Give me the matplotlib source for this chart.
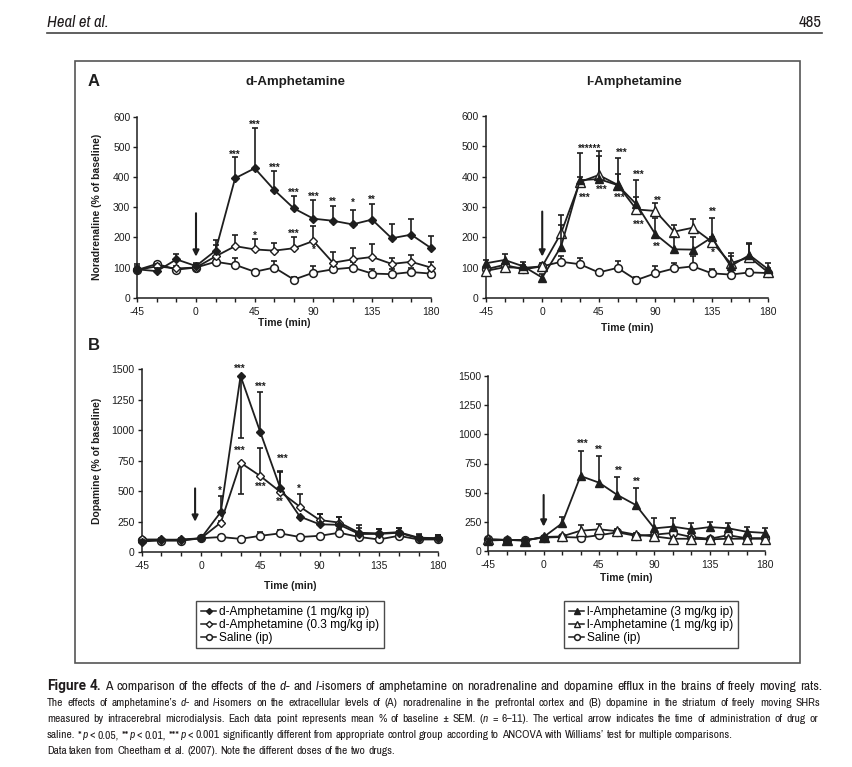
import matplotlib
matplotlib.use("Agg")
import numpy as np
from matplotlib import pyplot as plt
from matplotlib import font_manager
from matplotlib.lines import Line2D
from matplotlib.patches import Rectangle

W, H = 853, 767
INK = "#1e1e1e"
TXT = "#1f1b1c"
plt.rcParams["font.family"] = "Liberation Sans"
plt.rcParams["axes.unicode_minus"] = False

# time points (min)
t = [-45, -30, -15, 0, 15, 30, 45, 60, 75, 90, 105, 120, 135, 150, 165, 180]

# A, noradrenaline, d-amphetamine panel
d1_na = [94, 88, 127, 105, 156, 396, 429, 357, 296, 262, 255, 243, 259, 197, 209, 165]
d1_na_hi = [112, 100, 145, 115, 190, 465, 563, 421, 338, 325, 305, 292, 309, 244, 262, 205]
d03_na = [92, 104, 97, 100, 137, 171, 160, 156, 164, 188, 116, 127, 135, 112, 119, 100]
d03_na_hi = [105, 112, 105, 112, 175, 209, 193, 182, 200, 238, 150, 164, 177, 130, 143, 118]
sal_na_d = [92, 112, 93, 100, 119, 109, 86, 100, 60, 83, 94, 100, 80, 78, 85, 80]
sal_na_d_hi = [100, 118, 100, 110, 126, 130, 92, 122, 70, 105, 112, 118, 95, 95, 100, 92]

# A, noradrenaline, l-amphetamine panel
l3_na = [115, 126, 105, 68, 170, 388, 392, 372, 309, 211, 161, 160, 200, 106, 142, 95]
l3_na_hi = [125, 145, 120, 80, 275, 479, 483, 408, 389, 265, 200, 200, 265, 148, 183, 115]
l1_na = [90, 102, 100, 105, 214, 382, 405, 373, 292, 287, 219, 232, 186, 115, 135, 85]
l1_na_hi = [98, 112, 110, 115, 240, 400, 468, 462, 334, 312, 242, 261, 200, 140, 180, 100]
sal_na_l = [95, 110, 95, 105, 120, 112, 85, 100, 60, 82, 98, 105, 82, 78, 85, 83]
sal_na_l_hi = [103, 118, 103, 112, 138, 133, 92, 123, 70, 107, 117, 138, 95, 90, 95, 92]

# B, dopamine, d-amphetamine panel
d1_da = [87, 100, 105, 115, 330, 1443, 982, 529, 292, 229, 225, 150, 150, 160, 115, 115]
d1_da_hi = [100, 110, 115, 125, 461, 1443, 1314, 665, 300, 310, 285, 220, 190, 200, 150, 145]
d1_da_lo = [87, 100, 105, 115, 330, 933, 982, 529, 292, 229, 225, 150, 150, 160, 115, 115]
d03_da = [105, 105, 100, 115, 243, 733, 624, 496, 373, 264, 243, 160, 155, 165, 120, 115]
d03_da_hi = [115, 115, 110, 125, 260, 733, 856, 660, 474, 310, 285, 200, 190, 200, 145, 140]
d03_da_lo = [105, 105, 100, 115, 243, 474, 624, 496, 373, 264, 243, 160, 155, 165, 120, 115]
sal_da_d = [100, 95, 95, 115, 125, 110, 135, 155, 125, 135, 160, 125, 105, 135, 105, 105]
sal_da_d_hi = [110, 105, 105, 125, 140, 125, 165, 185, 140, 150, 190, 160, 130, 175, 120, 115]

# B, dopamine, l-amphetamine panel
l3_da = [90, 95, 90, 120, 237, 643, 586, 480, 394, 194, 209, 185, 205, 195, 165, 155]
l3_da_hi = [100, 105, 100, 130, 290, 857, 817, 637, 543, 280, 285, 240, 250, 240, 210, 195]
l1_da = [100, 95, 90, 120, 125, 174, 186, 170, 140, 125, 105, 105, 100, 105, 105, 105]
l1_da_hi = [110, 105, 100, 130, 140, 225, 230, 185, 155, 140, 120, 120, 115, 120, 120, 118]
sal_da_l = [100, 95, 95, 115, 120, 115, 135, 160, 130, 140, 155, 120, 105, 135, 110, 110]
sal_da_l_hi = [108, 103, 103, 123, 130, 125, 150, 180, 145, 155, 175, 135, 118, 150, 122, 120]

# significance marks (time, level, text)
stars_na_d = [(30, 482, "***"), (45, 581, "***"), (60, 438, "***"), (75, 357, "***"),
              (90, 343, "***"), (105, 327, "**"), (120, 322, "*"), (135, 333, "**"),
              (45, 213, "*"), (75, 219, "***"), (90, 166, "*")]
stars_na_l = [(37.5, 500, "******"), (63, 485, "***"), (77, 413, "***"), (92, 329, "**"),
              (136, 294, "**"), (34, 340, "***"), (47, 364, "***"), (62, 340, "***"),
              (77, 249, "***"), (91, 177, "**"), (136, 157, "*")]
stars_da_d = [(29.5, 1519, "***"), (45, 1374, "***"), (29.5, 851, "***"), (14, 524, "*"),
              (62, 788, "***"), (74.5, 537, "*"), (45, 559, "***"), (60, 434, "**")]
stars_da_l = [(31.5, 937, "***"), (45, 889, "**"), (61, 709, "**"), (76, 614, "**")]

# drug administration arrows (time, from, to)
arrow_na_d = (0, 280, 136)
arrow_na_l = (0, 285, 137)
arrow_da_d = (-4.5, 523, 250)
arrow_da_l = (0, 480, 209)

lab_d = ["d-Amphetamine (1 mg/kg ip)", "d-Amphetamine (0.3 mg/kg ip)", "Saline (ip)"]
lab_l = ["l-Amphetamine (3 mg/kg ip)", "l-Amphetamine (1 mg/kg ip)", "Saline (ip)"]

# caption lines as (text, style) pieces
cap1 = [("Figure 4.", "b"), (" A comparison of the effects of the ", ""), ("d", "i"), ("- and ", ""), ("l", "i"),
        ("-isomers of amphetamine on noradrenaline and dopamine efflux in the brains of freely moving rats.", "")]
cap2 = [("The effects of amphetamine\u2019s ", ""), ("d", "i"), ("- and ", ""), ("l", "i"),
        ("-isomers on the extracellular levels of (A) noradrenaline in the prefrontal cortex and (B) dopamine in the striatum of freely moving SHRs", "")]
cap3 = [("measured by intracerebral microdialysis. Each data point represents mean % of baseline \u00b1 SEM. (", ""),
        ("n", "i"), (" = 6\u201311). The vertical arrow indicates the time of administration of drug or", "")]
cap4 = [("saline. *", ""), ("p", "i"), (" < 0.05, **", ""), ("p", "i"), (" < 0.01, ***", ""), ("p", "i"),
        (" < 0.001 significantly different from appropriate control group according to ANCOVA with Williams\u2019 test for multiple comparisons.", "")]
cap5 = [("Data taken from Cheetham et al. (2007). Note the different doses of the two drugs.", "")]

# narrow font for the journal text
fl = font_manager.fontManager.ttflist
narrow = sorted({f.name for f in fl if "Narrow" in f.name or "Condensed" in f.name},
                key=lambda n: (0 if "Liberation" in n else 1, n))
dvc = [f for f in fl if f.name == "DejaVu Sans" and "condensed" in str(f.stretch)]
if narrow:
    NARROW, STRETCH = narrow[0], "normal"
elif dvc:
    NARROW, STRETCH = "DejaVu Sans", "condensed"
else:
    NARROW, STRETCH = "Roboto", "normal"
has_bold = any(f.name == NARROW and f.weight in (600, 700, 800, "bold", "semibold") for f in fl)
BOLD_FAM = NARROW if has_bold else "Roboto"

S_OPEN_C = dict(marker="o", ms=5.6, mfc="white", mec=INK, mew=1.1)
S_FILL_D = dict(marker="D", ms=4, mfc=INK, mec=INK, mew=1)
S_OPEN_D = dict(marker="D", ms=4.3, mfc="white", mec=INK, mew=1)
S_FILL_T = dict(marker="^", ms=6, mfc=INK, mec=INK, mew=1)
S_OPEN_T = dict(marker="^", ms=6.5, mfc="white", mec=INK, mew=1)

fig = plt.figure(figsize=(W / 100, H / 100), dpi=100)


def pos(x0, x1, ytop, ybot):
    return [x0 / W, 1 - ybot / H, (x1 - x0) / W, (ybot - ytop) / H]


def setup(ax, ymax, ystep, xlab_y, ylab=None, ylab_x=None):
    ax.set_xlim(-45, 180)
    ax.set_ylim(0, ymax)
    ax.set_xticks(range(-45, 181, 45))
    ax.set_xticks(t, minor=True)
    ax.set_yticks(np.arange(0, ymax + 1, ystep))
    ax.spines[["top", "right"]].set_visible(False)
    ax.spines[["left", "bottom"]].set_linewidth(1.1)
    ax.spines[["left", "bottom"]].set_color(INK)
    ax.tick_params(which="both", direction="out", length=3, width=1, labelsize=7.5, color=INK, labelcolor=INK)
    ax.tick_params(axis="x", pad=3.5)
    ax.tick_params(axis="y", pad=2)
    ax.set_facecolor("none")
    ax.set_xlabel("Time (min)", fontsize=7.5, fontweight="bold", color=INK, va="center")
    ax.xaxis.set_label_coords(0.5, xlab_y)
    if ylab:
        ax.set_ylabel(ylab, fontsize=7.5, fontweight="bold", color=INK, va="center")
        ax.yaxis.set_label_coords(ylab_x, 0.5)


def series(ax, y, hi, lo, style, z):
    y = np.asarray(y, float)
    hi = np.asarray(hi, float)
    lo = y if lo is None else np.asarray(lo, float)
    ax.vlines(t, lo, hi, color=INK, lw=1.2, zorder=z - 0.5, clip_on=False)
    caps_t = [tt for tt, a, b in zip(t, y, hi) if b > a] + [tt for tt, a, b in zip(t, y, lo) if b < a]
    caps_v = [b for a, b in zip(y, hi) if b > a] + [b for a, b in zip(y, lo) if b < a]
    ax.plot(caps_t, caps_v, ls="none", marker="_", ms=5, mew=1.2, color=INK, zorder=z - 0.5, clip_on=False)
    ax.plot(t, y, color=INK, lw=1.3, zorder=z, clip_on=False, **style)


def marks(ax, stars, arrow):
    for x, y, s in stars:
        ax.annotate(s, (x, y), xytext=(0, -4), textcoords="offset points", ha="center",
                    va="baseline", fontsize=7, fontweight="bold", color=INK, annotation_clip=False)
    x, y0, y1 = arrow
    ax.annotate("", xy=(x, y1), xytext=(x, y0),
                arrowprops=dict(arrowstyle="-|>", lw=1.5, color=INK, mutation_scale=9, shrinkA=0, shrinkB=0))


ax1 = fig.add_axes(pos(137.3, 430.8, 116.7, 297.7))
setup(ax1, 600, 100, -(323 - 297.7) / 181, "Noradrenaline (% of baseline)", -0.137)
series(ax1, sal_na_d, sal_na_d_hi, None, S_OPEN_C, 3)
series(ax1, d03_na, d03_na_hi, None, S_OPEN_D, 4)
series(ax1, d1_na, d1_na_hi, None, S_FILL_D, 5)
marks(ax1, stars_na_d, arrow_na_d)

ax2 = fig.add_axes(pos(485.7, 768.3, 115.7, 298.3))
setup(ax2, 600, 100, -(328 - 298.3) / 182.6)
series(ax2, sal_na_l, sal_na_l_hi, None, S_OPEN_C, 3)
series(ax2, l1_na, l1_na_hi, None, S_OPEN_T, 4)
series(ax2, l3_na, l3_na_hi, None, S_FILL_T, 5)
marks(ax2, stars_na_l, arrow_na_l)

ax3 = fig.add_axes(pos(141.7, 438.3, 369, 552.3))
setup(ax3, 1500, 250, -(585.7 - 552.3) / 183.3, "Dopamine (% of baseline)", -0.151)
series(ax3, sal_da_d, sal_da_d_hi, None, S_OPEN_C, 3)
series(ax3, d03_da, d03_da_hi, d03_da_lo, S_OPEN_D, 4)
series(ax3, d1_da, d1_da_hi, d1_da_lo, S_FILL_D, 5)
marks(ax3, stars_da_d, arrow_da_d)

ax4 = fig.add_axes(pos(488.3, 765, 376, 551))
setup(ax4, 1500, 250, -(578 - 551) / 175)
series(ax4, sal_da_l, sal_da_l_hi, None, S_OPEN_C, 3)
series(ax4, l1_da, l1_da_hi, None, S_OPEN_T, 4)
series(ax4, l3_da, l3_da_hi, None, S_FILL_T, 5)
marks(ax4, stars_da_l, arrow_da_l)


# legends
def handles(styles):
    return [Line2D([], [], color=INK, lw=1.1, **dict(s, ms=s["ms"] * 0.75)) for s in styles]


leg_kw = dict(loc="upper left", frameon=True, fancybox=False, edgecolor=INK, fontsize=8.6,
              handlelength=1.3, handletextpad=0.25, labelspacing=0.08, borderpad=0.4, borderaxespad=0)
lg1 = fig.legend(handles([S_FILL_D, S_OPEN_D, S_OPEN_C]), lab_d, bbox_to_anchor=(196 / W, 1 - 601 / H), **leg_kw)
lg2 = fig.legend(handles([S_FILL_T, S_OPEN_T, S_OPEN_C]), lab_l, bbox_to_anchor=(564 / W, 1 - 601 / H), **leg_kw)
for lg in (lg1, lg2):
    lg.get_frame().set_linewidth(1.0)

# panel letters and titles
fig.text(88 / W, 1 - 82 / H, "A", fontsize=12, fontweight="bold", color=INK, va="center")
fig.text(88 / W, 1 - 346 / H, "B", fontsize=12, fontweight="bold", color=INK, va="center")
fig.text(295 / W, 1 - 82 / H, "d-Amphetamine", fontsize=9.5, fontweight="bold", color=INK, ha="center", va="center")
fig.text(634 / W, 1 - 82 / H, "l-Amphetamine", fontsize=9.5, fontweight="bold", color=INK, ha="center", va="center")

# figure frame and page header
fig.patches.append(Rectangle((75 / W, 1 - 663 / H), (800 - 75) / W, (663 - 61) / H, transform=fig.transFigure,
                             fill=False, ec="#555555", lw=1.2))
fig.lines.append(Line2D([47 / W, 822 / W], [1 - 33 / H] * 2, transform=fig.transFigure, color="#444444", lw=1.2))
fig.text(47 / W, 1 - 27 / H, "Heal et al.", fontsize=12, family=NARROW, fontstretch=STRETCH,
         fontstyle="italic", color=TXT, va="baseline")
fig.text(822 / W, 1 - 27 / H, "485", fontsize=12, family=NARROW, fontstretch=STRETCH,
         color=TXT, ha="right", va="baseline")

# caption
rend = fig.canvas.get_renderer()


def style_kw(sty):
    if "b" in sty:
        return dict(family=BOLD_FAM, fontstretch=STRETCH if has_bold else "normal", fontweight="bold",
                    fontstyle="normal")
    return dict(family=NARROW, fontstretch=STRETCH, fontweight="normal",
                fontstyle="italic" if "i" in sty else "normal")


def words_of(segments):
    words = [[]]
    for txt, sty in segments:
        for k, p in enumerate(txt.split(" ")):
            if k > 0:
                words.append([])
            if p:
                words[-1].append((p, sty))
    return [w for w in words if w]


def space_w(size):
    a = fig.text(0, 0, "n n", fontsize=size, **style_kw(""))
    b = fig.text(0, 0, "nn", fontsize=size, **style_kw(""))
    d = a.get_window_extent(rend).width - b.get_window_extent(rend).width
    a.remove()
    b.remove()
    return d


def put_line(segments, y, size, x0, x1=None):
    words = words_of(segments)
    arts, wid = [], []
    for w in words:
        pieces, ww = [], 0
        for p, sty in w:
            tx = fig.text(0, 1 - y / H, p, fontsize=size, va="baseline", color=TXT, **style_kw(sty))
            pieces.append((tx, ww))
            ww += tx.get_window_extent(rend).width
        arts.append(pieces)
        wid.append(ww)
    sp = space_w(size)
    if x1 is not None:
        sp = max((x1 - x0 - sum(wid)) / (len(words) - 1), sp * 0.6)
    x = x0
    for pieces, ww in zip(arts, wid):
        for tx, off in pieces:
            tx.set_x((x + off) / W)
        x += ww + sp
    return arts, x - sp


def natural(segments, size):
    arts, end = put_line(segments, 0, size, 0)
    for pieces in arts:
        for tx, _ in pieces:
            tx.remove()
    return end


cs = 8 * 680 / natural(cap4, 8)
c1 = min(cs * 1.18, 9 * 775 / natural(cap1, 9))
put_line(cap1, 690, c1, 47, 822)
put_line(cap2, 706.5, cs, 47, 820)
put_line(cap3, 722.5, cs, 47, 818)
put_line(cap4, 738.5, cs, 47)
put_line(cap5, 754.5, cs, 47)

fig.savefig("out.png", dpi=100, facecolor="white")
